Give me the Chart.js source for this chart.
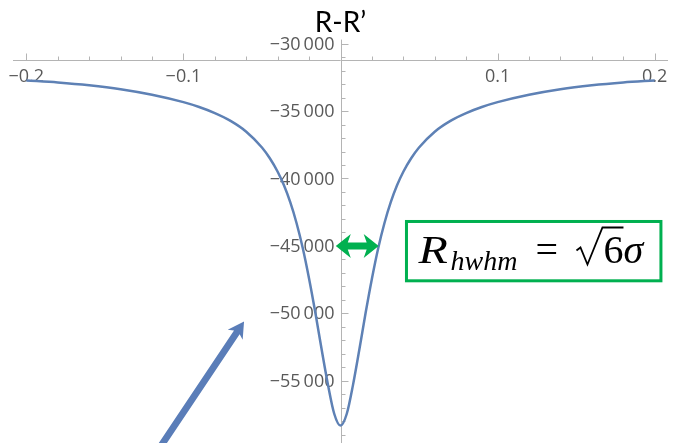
<!DOCTYPE html>
<html>
<head>
<meta charset="utf-8">
<title>R-R’</title>
<script src="https://cdn.jsdelivr.net/npm/chart.js@4.4.1/dist/chart.umd.min.js"></script>
<style>
  html, body { margin: 0; padding: 0; background: #fff; }
</style>
</head>
<body>
<canvas id="rrChart" width="673" height="443"></canvas>
<script>
// R - R' against the offset; one half listed, the curve is even in x
const halfOffsets = [0, 0.004, 0.008, 0.012, 0.016, 0.02, 0.024, 0.028, 0.032, 0.036, 0.04,
  0.045, 0.05, 0.06, 0.07, 0.08, 0.09, 0.1, 0.12, 0.14, 0.16, 0.18, 0.2];
const halfValues = [-58330, -57450, -55290, -52690, -49960, -47430, -45170, -43300, -41760, -40510, -39500,
  -38500, -37700, -36530, -35730, -35150, -34700, -34340, -33790, -33380, -33090, -32880, -32730];

// axes: major ticks carry labels, minor ticks in between
const xMajor = [-0.2, -0.1, 0.1, 0.2];
const xMajorLabels = ['\u22120.2', '\u22120.1', '0.1', '0.2'];
const xMinorStep = 0.02;
const yMajor = [-30000, -35000, -40000, -45000, -50000, -55000];
const yMajorLabels = ['\u221230\u2009000', '\u221235\u2009000', '\u221240\u2009000', '\u221245\u2009000', '\u221250\u2009000', '\u221255\u2009000'];
const yMinorStep = 1000;
const xAxisAt = -31250;

// half width at -45000 and the callouts
const hwhmLevel = -45000;
const hwhmFrom = -0.003;
const hwhmTo = 0.0243;
const boxX = [0.042, 0.204];
const boxY = [-43190, -47590];
const pointerTail = [-0.121, -61000];
const pointerTip = [-0.0614, -50610];

const AXIS = '#b4b4b4';
const LABEL = '#595959';
const GREEN = '#00b050';

// mirror the half into a full curve
const points = [];
for (let i = halfOffsets.length - 1; i > 0; i--) points.push({ x: -halfOffsets[i], y: halfValues[i] });
halfOffsets.forEach((v, i) => points.push({ x: v, y: halfValues[i] }));

const mmaAxes = {
  id: 'mmaAxes',
  beforeDatasetsDraw(chart) {
    const { ctx, scales: { x, y } } = chart;
    const ax = Math.round(x.getPixelForValue(0)) + 0.5;
    const ay = Math.round(y.getPixelForValue(xAxisAt)) + 0.5;
    ctx.save();
    ctx.strokeStyle = AXIS;
    ctx.lineWidth = 1;
    ctx.beginPath();
    ctx.moveTo(x.left, ay); ctx.lineTo(x.right, ay);
    ctx.moveTo(ax, y.top); ctx.lineTo(ax, chart.height);
    // x ticks point up
    for (let i = -10; i <= 10; i++) {
      if (i === 0) continue;
      const px = Math.round(x.getPixelForValue(i * xMinorStep)) + 0.5;
      const len = i % 5 === 0 ? 7 : 4;
      ctx.moveTo(px, ay); ctx.lineTo(px, ay - len);
    }
    // y ticks point right
    for (let i = 0; i < 30; i++) {
      const py = Math.round(y.getPixelForValue(yMajor[0] - i * yMinorStep)) + 0.5;
      const len = i % 5 === 0 ? 7 : 4;
      ctx.moveTo(ax, py); ctx.lineTo(ax + len, py);
    }
    ctx.stroke();

    ctx.fillStyle = LABEL;
    ctx.font = '18px "Open Sans"';
    ctx.textBaseline = 'middle';
    ctx.textAlign = 'center';
    xMajor.forEach((v, i) => ctx.fillText(xMajorLabels[i], x.getPixelForValue(v), ay + 16));
    ctx.textAlign = 'right';
    yMajor.forEach((v, i) => ctx.fillText(yMajorLabels[i], ax - 7, y.getPixelForValue(v) + 1));
    ctx.restore();
  },
  afterDatasetsDraw(chart) {
    const { ctx, scales: { x, y } } = chart;
    ctx.save();

    // double arrow marking the half width
    const xa = x.getPixelForValue(hwhmFrom), xb = x.getPixelForValue(hwhmTo);
    const yc = y.getPixelForValue(hwhmLevel);
    const hl = 15, hh = 12, st = 3.5;
    ctx.fillStyle = GREEN;
    ctx.beginPath();
    ctx.moveTo(xa, yc);
    ctx.lineTo(xa + hl, yc - hh); ctx.lineTo(xa + hl - 3, yc - st);
    ctx.lineTo(xb - hl + 3, yc - st); ctx.lineTo(xb - hl, yc - hh);
    ctx.lineTo(xb, yc);
    ctx.lineTo(xb - hl, yc + hh); ctx.lineTo(xb - hl + 3, yc + st);
    ctx.lineTo(xa + hl - 3, yc + st); ctx.lineTo(xa + hl, yc + hh);
    ctx.closePath();
    ctx.fill();

    // formula box
    const bl = x.getPixelForValue(boxX[0]), br = x.getPixelForValue(boxX[1]);
    const bt = y.getPixelForValue(boxY[0]), bb = y.getPixelForValue(boxY[1]);
    ctx.strokeStyle = GREEN;
    ctx.lineWidth = 3;
    ctx.strokeRect(bl, bt, br - bl, bb - bt);

    const base = bt + 42;
    ctx.fillStyle = '#000';
    ctx.textAlign = 'left';
    ctx.textBaseline = 'alphabetic';
    // wide italic R
    ctx.save();
    ctx.translate(bl + 12, base);
    ctx.scale(1.2, 1);
    ctx.font = 'italic 40px "Liberation Serif"';
    ctx.fillText('R', 0, 0);
    ctx.restore();
    ctx.font = 'italic 28px "Liberation Serif"';
    ctx.fillText('hwhm', bl + 44, base + 7);
    ctx.font = '40px "Liberation Serif"';
    ctx.fillText('=', bl + 129, base);
    ctx.fillText('6', bl + 197, base);
    ctx.font = 'italic 40px "Liberation Serif"';
    ctx.fillText('\u03c3', bl + 217, base);
    // radical sign over the 6
    ctx.strokeStyle = '#000';
    ctx.lineWidth = 1.8;
    ctx.lineJoin = 'miter';
    ctx.beginPath();
    ctx.moveTo(bl + 170, base - 13);
    ctx.lineTo(bl + 174, base - 16);
    ctx.lineTo(bl + 181, base + 1);
    ctx.lineTo(bl + 196, base - 36);
    ctx.lineTo(bl + 217, base - 36);
    ctx.stroke();

    // pointer arrow from below
    const tx = x.getPixelForValue(pointerTail[0]), ty = y.getPixelForValue(pointerTail[1]);
    const hx = x.getPixelForValue(pointerTip[0]), hy = y.getPixelForValue(pointerTip[1]);
    const ang = Math.atan2(hy - ty, hx - tx);
    const len = Math.hypot(hx - tx, hy - ty);
    ctx.translate(tx, ty);
    ctx.rotate(ang);
    ctx.fillStyle = '#5a7db8';
    ctx.beginPath();
    ctx.moveTo(0, -3.4);
    ctx.lineTo(len - 13, -3.4);
    ctx.lineTo(len - 16, -9);
    ctx.lineTo(len, 0);
    ctx.lineTo(len - 16, 9);
    ctx.lineTo(len - 13, 3.4);
    ctx.lineTo(0, 3.4);
    ctx.closePath();
    ctx.fill();
    ctx.restore();
  }
};

new Chart(document.getElementById('rrChart'), {
  type: 'line',
  data: {
    datasets: [{
      data: points,
      borderColor: '#5e81b5',
      borderWidth: 2.5,
      pointRadius: 0,
      cubicInterpolationMode: 'monotone',
      fill: false
    }]
  },
  options: {
    responsive: false,
    devicePixelRatio: 1,
    animation: false,
    layout: { padding: { left: 13, right: 5, top: 0, bottom: 0 } },
    plugins: {
      legend: { display: false },
      tooltip: { enabled: false },
      title: {
        display: true,
        text: 'R-R\u2019',
        color: '#000',
        font: { family: 'Lato', size: 28, weight: 'normal' },
        padding: { top: 6, bottom: 0 }
      }
    },
    scales: {
      x: { type: 'linear', min: -0.2085, max: 0.2085, display: false },
      y: { type: 'linear', min: -59620, max: -29700, display: false }
    }
  },
  plugins: [mmaAxes]
});
</script>
</body>
</html>
